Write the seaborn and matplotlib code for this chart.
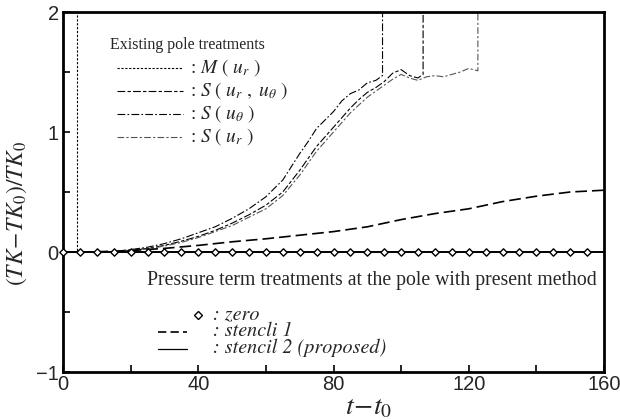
import matplotlib
matplotlib.use("Agg")
import matplotlib.pyplot as plt
import seaborn as sns
from matplotlib.ticker import MultipleLocator
from matplotlib.lines import Line2D

# ---------------- data ----------------
t_M = [0, 2, 4.1, 4.1]
v_M = [0, 0, 0, 3.0]

t_Sth = [0, 10, 15, 20, 25, 30, 35, 40, 45, 50, 55, 60, 65, 70, 72.5, 75, 77.5,
         80, 82.5, 85, 87.5, 90, 92.5, 94.5, 94.5]
v_Sth = [0, 0, 0.005, 0.02, 0.04, 0.07, 0.11, 0.16, 0.21, 0.28, 0.36, 0.46, 0.6,
         0.82, 0.92, 1.03, 1.1, 1.17, 1.26, 1.32, 1.35, 1.41, 1.43, 1.47, 3.0]

t_Srth = [0, 10, 15, 20, 25, 30, 35, 40, 45, 50, 55, 60, 65, 70, 75, 80, 82.5,
          85, 87.5, 90, 92.5, 95, 97.5, 100, 102.5, 105, 106.5, 106.5]
v_Srth = [0, 0, 0.003, 0.015, 0.03, 0.055, 0.09, 0.13, 0.18, 0.24, 0.31, 0.39,
          0.5, 0.68, 0.88, 1.04, 1.12, 1.2, 1.27, 1.33, 1.37, 1.42, 1.49, 1.52,
          1.47, 1.45, 1.48, 3.0]

t_Sr = [0, 10, 15, 20, 25, 30, 35, 40, 45, 50, 55, 60, 65, 70, 75, 80, 85, 90,
        95, 97.5, 100, 102.5, 105, 107.5, 110, 112.5, 115, 117.5, 120, 122.7, 122.7]
v_Sr = [0, 0, 0.002, 0.012, 0.025, 0.05, 0.08, 0.12, 0.17, 0.22, 0.29, 0.36,
        0.47, 0.64, 0.84, 1.0, 1.16, 1.29, 1.39, 1.44, 1.48, 1.45, 1.43, 1.46,
        1.47, 1.46, 1.48, 1.5, 1.53, 1.51, 3.0]

t_st1 = [0, 10, 20, 30, 40, 50, 60, 70, 80, 90, 100, 110, 120, 130, 140, 150, 160]
v_st1 = [0, 0.002, 0.012, 0.03, 0.055, 0.085, 0.11, 0.14, 0.17, 0.21, 0.27,
         0.32, 0.36, 0.42, 0.465, 0.5, 0.515]

t_st2 = [0, 160]
v_st2 = [0, 0]

t_zero = [0, 5, 10, 15, 20, 25, 30, 35, 40, 45, 50, 55, 60, 65, 70, 75, 80, 85,
          90, 95, 100, 105, 110, 115, 120, 125, 130, 135, 140, 145, 150, 155]
v_zero = [0] * len(t_zero)

xticks = [0, 40, 80, 120, 160]
yticks = [-1, 0, 1, 2]

# ---------------- style ----------------
sns.set_theme(style="white")
plt.rcParams["font.family"] = ["Liberation Serif", "DejaVu Serif"]
plt.rcParams["mathtext.fontset"] = "stix"

fig = plt.figure(figsize=(6.2, 4.2), dpi=100)
ax = fig.add_axes([63 / 620, 1 - 372 / 420, (604 - 63) / 620, (372 - 12) / 420])

ls_M = (0, (2.0, 1.5))
ls_Srth = (0, (7, 2, 3, 2))
ls_Sth = (0, (7, 2, 1.5, 2))
ls_Sr = (0, (6, 2, 2, 2))
ls_st1 = (0, (7, 3))

common = dict(ax=ax, estimator=None, sort=False, legend=False)
sns.lineplot(x=t_M, y=v_M, color="black", linewidth=0.8, linestyle=ls_M, **common)
sns.lineplot(x=t_Srth, y=v_Srth, color="black", linewidth=0.8, linestyle=ls_Srth, **common)
sns.lineplot(x=t_Sth, y=v_Sth, color="black", linewidth=0.8, linestyle=ls_Sth, **common)
sns.lineplot(x=t_Sr, y=v_Sr, color="#555555", linewidth=0.8, linestyle=ls_Sr, **common)
sns.lineplot(x=t_st1, y=v_st1, color="black", linewidth=1.2, linestyle=ls_st1, **common)
sns.lineplot(x=t_st2, y=v_st2, color="black", linewidth=1.4, **common)
sns.scatterplot(x=t_zero, y=v_zero, ax=ax, marker="D", s=14, facecolor="white",
                edgecolor="black", linewidth=1.0, zorder=5, legend=False, clip_on=False)

ax.set_xlim(0, 160)
ax.set_ylim(-1, 2)
ax.set_xticks(xticks)
ax.set_yticks(yticks)
ax.set_xticklabels([str(v) for v in xticks], family="Liberation Sans", fontsize=14.5)
ax.set_yticklabels([("\u2212" + str(-v)) if v < 0 else str(v) for v in yticks],
                   family="Liberation Sans", fontsize=14.5)
ax.xaxis.set_minor_locator(MultipleLocator(20))
ax.yaxis.set_minor_locator(MultipleLocator(0.5))
ax.tick_params(which="both", direction="in", length=5, width=1.2,
               top=False, right=False, bottom=True, left=True, color="black")
ax.tick_params(axis="x", which="major", pad=2)
ax.tick_params(axis="y", which="major", pad=3)
for s in ax.spines.values():
    s.set_linewidth(2.0)
    s.set_color("black")

ax.set_xlabel(r"$t\!-\!t_0$", fontsize=20)
ax.xaxis.set_label_coords(0.565, -0.065)
ax.set_ylabel(r"$(TK\!-\!TK_0)/TK_0$", fontsize=17)
ax.yaxis.set_label_coords(-0.062, 0.44)

# ----------- in-plot legends (figure pixel coords) -----------
def px(x, y):
    return x / 620, 1 - y / 420

fig.text(*px(110, 45), "Existing pole treatments", fontsize=11.5, va="center", ha="left")
entries = [
    (68, ls_M, "black", r": $M\ (\ u_r\ )$"),
    (91, ls_Srth, "black", r": $S\ (\ u_r\ ,\ u_\theta\ )$"),
    (114, ls_Sth, "black", r": $S\ (\ u_\theta\ )$"),
    (137, ls_Sr, "#555555", r": $S\ (\ u_r\ )$"),
]
for y, ls, col, lab in entries:
    x0, y0 = px(117, y)
    x1, _ = px(183, y)
    fig.add_artist(Line2D([x0, x1], [y0, y0], transform=fig.transFigure,
                          color=col, linewidth=0.8, linestyle=ls))
    fig.text(*px(190, y), lab, fontsize=14, va="center", ha="left")

fig.text(*px(147, 281), "Pressure term treatments at the pole with present method",
         fontsize=14.2, va="center", ha="left")
zx, zy = px(198, 315)
fig.add_artist(Line2D([zx], [zy], transform=fig.transFigure, marker="D",
                      markersize=3.8, markerfacecolor="white", markeredgecolor="black",
                      markeredgewidth=1.0, linestyle="none"))
it = dict(family="STIXGeneral", style="italic", fontsize=14.5, va="center", ha="left")
fig.text(*px(213, 314), ": zero", **it)
x0, y0 = px(158, 332)
x1, _ = px(187, 332)
fig.add_artist(Line2D([x0, x1], [y0, y0], transform=fig.transFigure, color="black",
                      linewidth=1.2, linestyle=(0, (5, 2.5))))
fig.text(*px(213, 331), ": stencli 1", **it)
x0, y0 = px(158, 349)
fig.add_artist(Line2D([x0, x1], [y0, y0], transform=fig.transFigure, color="black",
                      linewidth=0.9))
fig.text(*px(213, 348), ": stencil 2 (proposed)", **it)

fig.savefig("out.png", dpi=100)
